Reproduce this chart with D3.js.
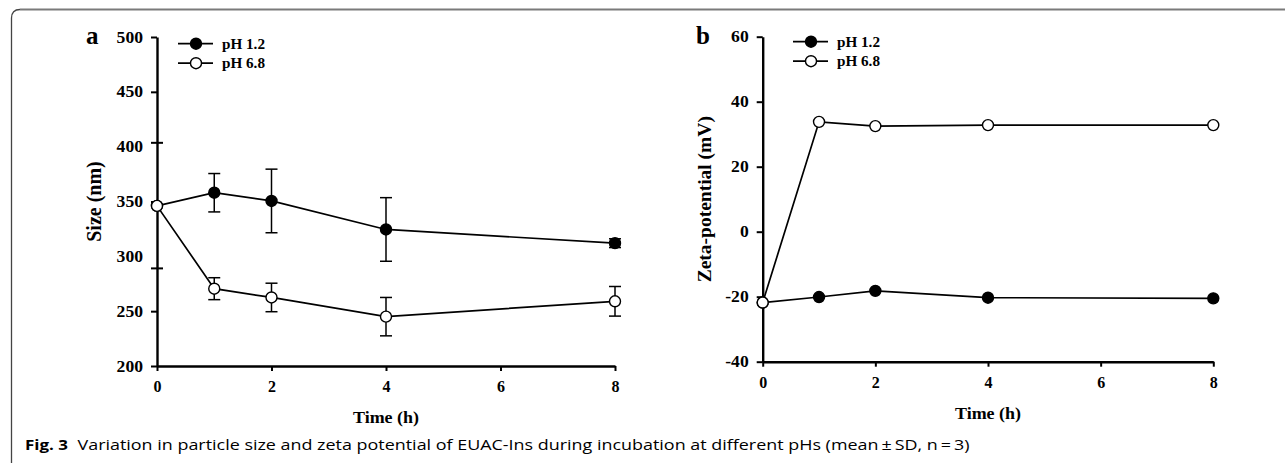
<!DOCTYPE html>
<html><head><meta charset="utf-8">
<script src="https://cdn.jsdelivr.net/npm/d3@7"></script>
<style>
html,body{margin:0;padding:0;background:#fff;}
svg{display:block;}
.serif{font-family:"Liberation Serif","Times New Roman",serif;font-weight:bold;fill:#000;}
</style></head>
<body>
<svg id="c" width="1285" height="465"></svg>
<script>
// ---------- data ----------
const timesA = [0, 1, 2, 4, 8];
const sizePH12 = [346, 358, 350.5, 324.5, 312];
const sizePH12Err = [0, 17.5, 29, 29, 4];
const sizePH68 = [346, 270.5, 262.5, 245, 259];
const sizePH68Err = [0, 10, 13, 17.5, 13.5];

const timesB = [0, 1, 2, 4, 8];
const zetaPH12 = [-21.8, -20.1, -18.2, -20.3, -20.5];
const zetaPH68 = [-21.8, 33.8, 32.5, 32.8, 32.8];

const xTicks = [0, 2, 4, 6, 8];
const yTicksA = [200, 250, 300, 350, 400, 450, 500];
const yTicksB = [-40, -20, 0, 20, 40, 60];
const strayTicksA = [289, 403.5];
const seriesNames = ["pH 1.2", "pH 6.8"];
const caption1 = "Fig. 3";
const caption2 = "Variation in particle size and zeta potential of EUAC-Ins during incubation at different pHs (mean\u2009\u00b1\u2009SD, n\u2009=\u20093)";

// ---------- drawing ----------
const svg = d3.select("#c");

// frame
svg.append("path")
  .attr("d", "M11.5,463 L11.5,18 Q11.5,9.5 20,9.5")
  .attr("fill", "none").attr("stroke", "#444").attr("stroke-width", 1.3);
svg.append("line").attr("x1", 20).attr("x2", 1285).attr("y1", 9.5).attr("y2", 9.5)
  .attr("stroke", "#7a7a7a").attr("stroke-width", 2);

function stretch(sel, k) {
  sel.each(function () {
    const n = this.getComputedTextLength();
    d3.select(this).attr("textLength", n * k).attr("lengthAdjust", "spacingAndGlyphs");
  });
}
const plain = d => String(d);

function panel(cfg) {
  const g = svg.append("g");
  const x = d3.scaleLinear([0, 8], cfg.xr);
  const y = d3.scaleLinear(cfg.yd, cfg.yr);

  // axes
  const ax = g.append("g").attr("transform", `translate(0,${cfg.yr[0]})`)
    .call(d3.axisBottom(x).tickValues(xTicks).tickSize(5).tickSizeOuter(0).tickPadding(10).tickFormat(plain));
  const ay = g.append("g").attr("transform", `translate(${cfg.xr[0]},0)`)
    .call(d3.axisLeft(y).tickValues(cfg.yt).tickSize(6).tickSizeOuter(0).tickPadding(8).tickFormat(plain));
  [ax, ay].forEach(a => {
    a.selectAll("path.domain").attr("stroke", "#000").attr("stroke-width", 2.4);
    a.selectAll(".tick line").attr("stroke", "#000").attr("stroke-width", 2);
    a.selectAll("text").attr("class", "serif").style("font-size", "16px").attr("fill", "#000");
  });
  stretch(ay.selectAll("text"), 1.1);
  if (cfg.hideTicks) {
    ay.selectAll(".tick").filter(d => cfg.hideTicks.includes(d)).select("line").remove();
  }
  if (cfg.stray) {
    g.selectAll("line.stray").data(cfg.stray).join("line")
      .attr("x1", cfg.xr[0] - 6).attr("x2", cfg.xr[0] + 6)
      .attr("y1", d => y(d)).attr("y2", d => y(d))
      .attr("stroke", "#000").attr("stroke-width", 2);
  }

  // axis titles
  const xt = g.append("text").attr("class", "serif").style("font-size", "17px")
    .attr("text-anchor", "middle")
    .attr("x", (cfg.xr[0] + cfg.xr[1]) / 2).attr("y", cfg.yr[0] + 57).text("Time (h)");
  xt.attr("textLength", 66).attr("lengthAdjust", "spacingAndGlyphs");
  g.append("text").attr("class", "serif").style("font-size", cfg.ytSize)
    .attr("text-anchor", "middle")
    .attr("transform", `translate(${cfg.ytX},${(cfg.yr[0] + cfg.yr[1]) / 2}) rotate(-90)`)
    .text(cfg.ytitle);

  // panel letter
  g.append("text").attr("class", "serif").style("font-size", "25px")
    .attr("x", cfg.letterX).attr("y", cfg.yr[1] + 7).text(cfg.letter);

  const line = d3.line().x(d => x(d[0])).y(d => y(d[1]));
  const series = [
    { vals: cfg.s1, err: cfg.e1, fill: "#000" },
    { vals: cfg.s2, err: cfg.e2, fill: "#fff" }
  ];
  series.forEach(s => {
    const pts = cfg.t.map((t, i) => [t, s.vals[i], s.err ? s.err[i] : 0]);
    g.append("path").datum(pts).attr("d", line)
      .attr("fill", "none").attr("stroke", "#000").attr("stroke-width", 1.7);
    if (s.err) {
      const eb = g.append("g");
      pts.filter(p => p[2] > 0).forEach(p => {
        const cx = x(p[0]), y1 = y(p[1] + p[2]), y2 = y(p[1] - p[2]);
        eb.append("line").attr("x1", cx).attr("x2", cx).attr("y1", y1).attr("y2", y2);
        eb.append("line").attr("x1", cx - 6).attr("x2", cx + 6).attr("y1", y1).attr("y2", y1);
        eb.append("line").attr("x1", cx - 6).attr("x2", cx + 6).attr("y1", y2).attr("y2", y2);
      });
      eb.selectAll("line").attr("stroke", "#000").attr("stroke-width", 1.5);
    }
    g.selectAll(null).data(pts).join("circle")
      .attr("cx", d => x(d[0])).attr("cy", d => y(d[1]))
      .attr("r", 5.5).attr("fill", s.fill).attr("stroke", "#000").attr("stroke-width", 1.4);
  });

  // legend
  const lg = g.append("g");
  seriesNames.forEach((name, i) => {
    const ly = cfg.legY + i * 19.5;
    lg.append("line").attr("x1", cfg.legX).attr("x2", cfg.legX + 35).attr("y1", ly).attr("y2", ly)
      .attr("stroke", "#000").attr("stroke-width", 1.7);
    lg.append("circle").attr("cx", cfg.legX + 18).attr("cy", ly).attr("r", 5.5)
      .attr("fill", i === 0 ? "#000" : "#fff").attr("stroke", "#000").attr("stroke-width", 1.4);
    const t = lg.append("text").attr("class", "serif").style("font-size", "15px")
      .attr("x", cfg.legX + 44).attr("y", ly + 5).text(name);
    t.attr("textLength", 43).attr("lengthAdjust", "spacingAndGlyphs");
  });
}

panel({
  xr: [157, 615], yd: [200, 500], yr: [366, 37], yt: yTicksA,
  t: timesA, s1: sizePH12, e1: sizePH12Err, s2: sizePH68, e2: sizePH68Err,
  hideTicks: [300, 400], stray: strayTicksA,
  ytitle: "Size (nm)", ytX: 101, ytSize: "20px",
  letter: "a", letterX: 86, legX: 178, legY: 43.7
});
panel({
  xr: [762.7, 1213.3], yd: [-40, 60], yr: [361.7, 36.7], yt: yTicksB,
  t: timesB, s1: zetaPH12, e1: null, s2: zetaPH68, e2: null,
  ytitle: "Zeta-potential (mV)", ytX: 711, ytSize: "19.5px",
  letter: "b", letterX: 696, legX: 793, legY: 41.7
});

// caption
const c1 = svg.append("text").attr("x", 25).attr("y", 450)
  .style("font-family", "'Open Sans','Noto Sans',sans-serif").style("font-weight", "bold")
  .style("font-size", "14.5px").attr("fill", "#000").text(caption1);
c1.attr("textLength", 43).attr("lengthAdjust", "spacingAndGlyphs");
const c2 = svg.append("text").attr("x", 77.5).attr("y", 450)
  .style("font-family", "'Open Sans','Noto Sans',sans-serif")
  .style("font-size", "14.5px").attr("fill", "#000").text(caption2);
c2.attr("textLength", 892).attr("lengthAdjust", "spacingAndGlyphs");
</script>
</body></html>
